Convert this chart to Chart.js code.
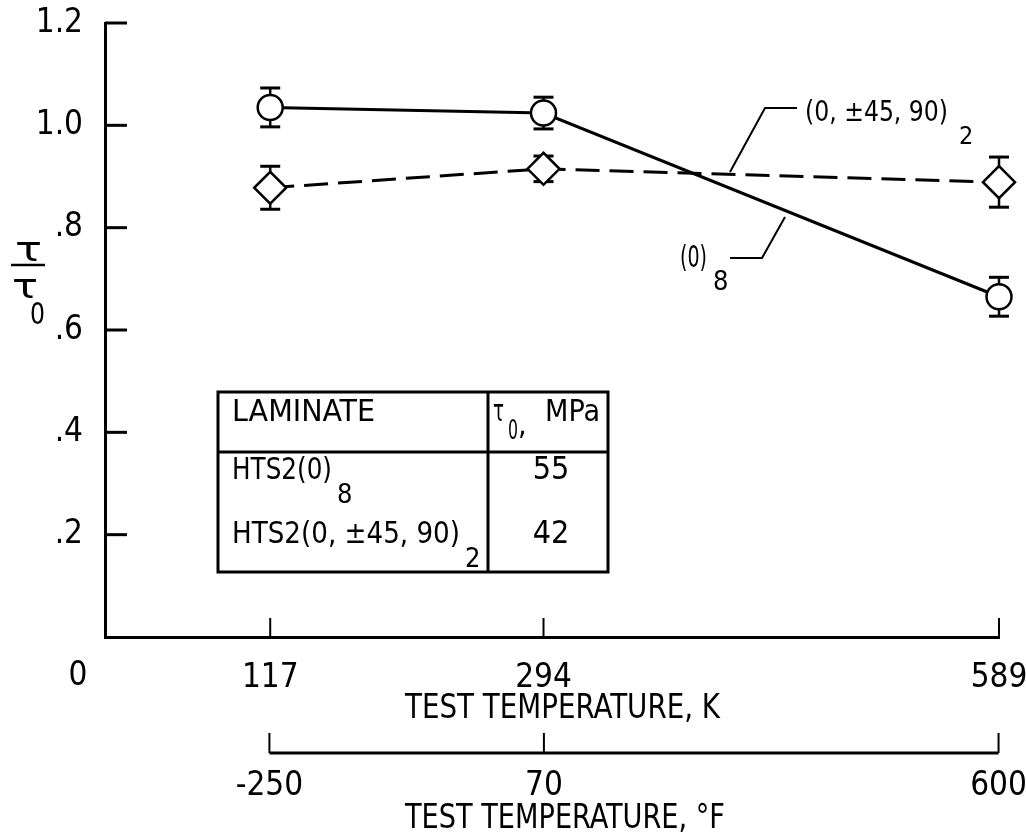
<!DOCTYPE html>
<html>
<head>
<meta charset="utf-8">
<script src="https://cdn.jsdelivr.net/npm/chart.js@4/dist/chart.umd.min.js"></script>
<style>
  body { margin: 0; background: #fff; }
  canvas { display: block; }
</style>
</head>
<body>
<canvas id="shearChart" width="1026" height="837"></canvas>
<script>
// data
const tempK = [117, 294, 589]
const tempF = [-250, 70, 600]
const ratioUni = [1.035, 1.024, 0.665]      // (0)8
const errUni = [0.038, 0.031, 0.038]
const ratioQuasi = [0.878, 0.915, 0.889]    // (0, ±45, 90)2
const errQuasi = [0.042, 0.025, 0.049]
const yTicks = [0, 0.2, 0.4, 0.6, 0.8, 1.0, 1.2]
const kMin = 10
const kMax = 589

// table in the plot
const tableLaminates = ['HTS2(0)', 'HTS2(0, ±45, 90)']
const tableSubs = ['8', '2']
const tableTau0 = ['55', '42']

const FONT = '"DejaVu Sans Condensed", "Liberation Sans", sans-serif'
const kToF = k => k * 9 / 5 - 459.67

// text squeezed to a given width (the original lettering is very narrow)
function txt(ctx, str, x, y, size, w, align) {
  ctx.save()
  ctx.font = size + 'px ' + FONT
  ctx.textBaseline = 'middle'
  ctx.textAlign = align || 'left'
  ctx.fillStyle = '#000'
  const natural = ctx.measureText(str).width
  ctx.translate(x, y)
  ctx.scale(w ? w / natural : 1, 1)
  ctx.fillText(str, 0, 0)
  ctx.restore()
}

function line(ctx, pts, width) {
  ctx.save()
  ctx.strokeStyle = '#000'
  ctx.lineWidth = width
  ctx.beginPath()
  ctx.moveTo(pts[0][0], pts[0][1])
  for (let i = 1; i < pts.length; i++) ctx.lineTo(pts[i][0], pts[i][1])
  ctx.stroke()
  ctx.restore()
}

// no extra room for overhanging labels, the layout padding handles it
function noOverhang(s) {
  s.paddingLeft = 0
  s.paddingRight = 0
  s.paddingTop = 0
  s.paddingBottom = 0
}

// inward ticks + error bars, under the markers
const underPlugin = {
  id: 'under',
  beforeDatasetsDraw(chart) {
    const {ctx, chartArea, scales} = chart
    const y = scales.y, x = scales.x, xF = scales.xF
    yTicks.forEach(v => {
      if (v === 0) return
      const py = y.getPixelForValue(v)
      line(ctx, [[chartArea.left, py], [chartArea.left + 22, py]], 3)
    })
    tempK.forEach(v => {
      const px = x.getPixelForValue(v)
      line(ctx, [[px, chartArea.bottom], [px, chartArea.bottom - 19]], 2)
    })
    // °F bracket axis
    const by = xF.top + 16
    const fl = xF.getPixelForValue(tempF[0])
    const fr = xF.getPixelForValue(tempF[tempF.length - 1])
    line(ctx, [[fl, by], [fr, by]], 3)
    tempF.forEach(v => {
      const px = xF.getPixelForValue(v)
      line(ctx, [[px, by], [px, by - 20]], 2)
    })
    // error bars
    const errs = [errUni, errQuasi]
    chart.data.datasets.forEach((ds, di) => {
      const meta = chart.getDatasetMeta(di)
      meta.data.forEach((pt, i) => {
        const top = y.getPixelForValue(ds.data[i].y + errs[di][i])
        const bot = y.getPixelForValue(ds.data[i].y - errs[di][i])
        line(ctx, [[pt.x, top], [pt.x, bot]], 2.5)
        line(ctx, [[pt.x - 10, top], [pt.x + 10, top]], 3)
        line(ctx, [[pt.x - 10, bot], [pt.x + 10, bot]], 3)
      })
    })
  }
}

// labels, leaders and the table
const overPlugin = {
  id: 'over',
  afterDraw(chart) {
    const ctx = chart.ctx
    // y axis label tau / tau0
    txt(ctx, 'τ', 15, 252, 34, 27)
    line(ctx, [[11, 265], [45, 265]], 2.5)
    txt(ctx, 'τ', 12, 289, 34, 26)
    txt(ctx, '0', 30, 316, 31, 15)
    // origin
    txt(ctx, '0', 78, 676, 33, 0, 'center')
    // axis titles
    txt(ctx, 'TEST TEMPERATURE, K', 405, 709, 34, 315)
    txt(ctx, 'TEST TEMPERATURE, °F', 405, 819, 34, 320)

    // curve labels
    line(ctx, [[797, 108], [765, 108], [730, 172]], 2)
    txt(ctx, '(0, ±45, 90)', 805, 113, 29, 143)
    txt(ctx, '2', 959, 137, 25)
    line(ctx, [[730, 258], [762, 258], [785, 217]], 2)
    txt(ctx, '(0)', 680, 259, 30, 27)
    txt(ctx, '8', 713, 283, 27)

    // table
    const L = 218, R = 608, T = 392, B = 572, D = 488, H = 452
    ctx.save()
    ctx.strokeStyle = '#000'
    ctx.lineWidth = 3
    ctx.strokeRect(L, T, R - L, B - T)
    ctx.restore()
    line(ctx, [[D, T], [D, B]], 3)
    line(ctx, [[L, H], [R, H]], 3)
    txt(ctx, 'LAMINATE', 232, 413, 31, 143)
    txt(ctx, 'τ', 493, 413, 30, 11)
    txt(ctx, '0', 508, 432, 27, 10)
    txt(ctx, ',', 518, 426, 30)
    txt(ctx, 'MPa', 545, 413, 31, 55)
    const rowY = [471, 535]
    const rowW = [100, 228]
    tableLaminates.forEach((s, i) => {
      txt(ctx, s, 232, rowY[i], 31, rowW[i])
      txt(ctx, tableSubs[i], 232 + rowW[i] + 5, rowY[i] + 25, 27)
      txt(ctx, tableTau0[i], 551, rowY[i], 32, 0, 'center')
    })
  }
}

const data = {
  datasets: [
    {
      label: '(0)8',
      data: tempK.map((k, i) => ({x: k, y: ratioUni[i]})),
      borderColor: '#000',
      borderWidth: 3,
      pointStyle: 'circle',
      pointRadius: 12.5,
      pointBackgroundColor: '#fff',
      pointBorderColor: '#000',
      pointBorderWidth: 2.5,
      clip: false
    },
    {
      label: '(0, ±45, 90)2',
      data: tempK.map((k, i) => ({x: k, y: ratioQuasi[i]})),
      borderColor: '#000',
      borderWidth: 3,
      borderDash: [24, 10],
      pointStyle: 'rectRot',
      pointRadius: 16,
      pointBackgroundColor: '#fff',
      pointBorderColor: '#000',
      pointBorderWidth: 2.5,
      clip: false
    }
  ]
}

const tickFont = {family: FONT, size: 33}

const config = {
  type: 'line',
  data: data,
  options: {
    responsive: false,
    animation: false,
    events: [],
    layout: {padding: {left: 0, right: 27, top: 23, bottom: 0}},
    plugins: {legend: {display: false}, tooltip: {enabled: false}},
    scales: {
      x: {
        type: 'linear',
        position: 'bottom',
        min: kMin,
        max: kMax,
        afterBuildTicks: s => { s.ticks = tempK.map(v => ({value: v})) },
        afterFit: s => { s.height = 100; noOverhang(s) },
        ticks: {color: '#000', font: tickFont, padding: 22, maxRotation: 0, autoSkip: false},
        grid: {display: true, drawOnChartArea: false, drawTicks: false},
        border: {display: true, color: '#000', width: 3}
      },
      xF: {
        type: 'linear',
        position: 'bottom',
        min: kToF(kMin),
        max: kToF(kMax),
        afterBuildTicks: s => { s.ticks = tempF.map(v => ({value: v})) },
        afterFit: s => { s.height = 100; noOverhang(s) },
        ticks: {color: '#000', font: tickFont, padding: 30, maxRotation: 0, autoSkip: false},
        grid: {display: false, drawTicks: false},
        border: {display: false}
      },
      y: {
        min: 0,
        max: 1.2,
        afterBuildTicks: s => { s.ticks = yTicks.map(v => ({value: v})) },
        afterFit: s => { s.width = 105; noOverhang(s) },
        ticks: {
          color: '#000',
          font: tickFont,
          padding: 22,
          callback: v => v === 0 ? '' : v.toFixed(1).replace(/^0/, '')
        },
        grid: {display: true, drawOnChartArea: false, drawTicks: false},
        border: {display: true, color: '#000', width: 3}
      }
    }
  },
  plugins: [underPlugin, overPlugin]
}

const shearChart = new Chart(document.querySelector('#shearChart'), config)
</script>
</body>
</html>
